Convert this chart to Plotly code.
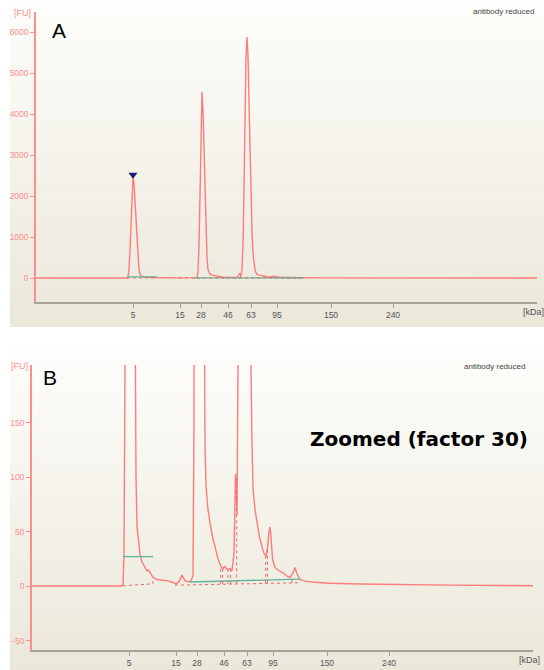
import plotly.graph_objects as go

W, H = 544, 670

# ---------------- data (migration time in s, fluorescence in FU) ----------------
time_s = [15.00, 18.00, 20.40, 20.46, 20.52, 20.58, 20.64, 20.70, 20.76, 20.82, 20.88, 20.94,
          21.00, 21.06, 21.12, 21.18, 21.24, 21.30, 21.39, 21.48, 21.60, 21.78, 21.90, 21.99,
          22.08, 22.26, 22.50, 22.80, 23.10, 23.40, 23.64, 23.82, 24.00, 24.18, 24.36, 24.54,
          24.66, 24.72, 24.78, 24.84, 24.90, 24.96, 25.02, 25.08, 25.14, 25.20, 25.26, 25.32,
          25.38, 25.44, 25.56, 25.68, 25.83, 25.98, 26.16, 26.34, 26.46, 26.58, 26.70, 26.88,
          27.00, 27.12, 27.18, 27.21, 27.24, 27.30, 27.36, 27.42, 27.48, 27.54, 27.60, 27.66,
          27.72, 27.78, 27.84, 27.90, 27.96, 28.02, 28.08, 28.14, 28.20, 28.26, 28.38, 28.50,
          28.65, 28.80, 28.92, 29.04, 29.13, 29.22, 29.28, 29.34, 29.43, 29.58, 29.82, 30.06,
          30.30, 30.48, 30.66, 30.78, 30.90, 31.08, 31.38, 31.98, 32.88, 34.68, 37.08, 40.08,
          43.08, 45.06]
signal_fu = [0, 0, 0, 2, 30, 200, 700, 1400, 2100, 2450, 2300, 1850,
             1350, 900, 450, 210, 100, 55, 38, 29, 22, 17, 14, 14.5,
             12, 8, 6, 5.5, 5, 3.5, 2, 4, 10, 5, 4, 4.5,
             10, 150, 800, 2000, 3600, 4540, 4100, 3100, 2000, 1100, 500, 210,
             130, 92, 70, 58, 45, 36, 25, 18, 16, 18, 15, 16,
             14, 30, 90, 103, 95, 65, 200, 800, 2200, 4000, 5400, 5880,
             5400, 4300, 3000, 1900, 1100, 600, 320, 200, 130, 90, 70, 58,
             45, 36, 30, 27, 35, 50, 54, 45, 25, 17, 14, 12,
             9, 8, 12, 17, 11, 6, 4.5, 3.5, 2.5, 1.8, 1.2, 0.8,
             0.5, 0.3]

# size-standard positions (migration time) and their kDa labels
ladder_time = [20.82, 23.64, 24.90, 26.52, 27.90, 29.46, 32.70, 36.42]
ladder_kda = ["5", "15", "28", "46", "63", "95", "150", "240"]

# peak-integration marks
level_line_time = [20.46, 22.26]      # teal peak-level line of the first peak
level_line_fu = [27, 27]
base1_time = [20.46, 22.26]           # dotted baselines
base1_fu = [0.3, 2]
base2_time = [23.58, 31.08]
base2_fu = [0.8, 3]
teal_base_time = [24.48, 31.08]
teal_base_fu = [3.7, 6.4]
split_time = [22.26, 26.32, 26.44, 26.76, 26.92, 27.28, 29.02, 29.13, 30.60]
split_top_fu = [8, 16, 16, 15, 15, 100, 27, 35, 8]
split_bottom_fu = [2, 2, 2, 2, 2, 2.5, 3, 3, 3]

peak_marker_time = [20.82]
peak_marker_fu_A = [2520]

yticks_A = [0, 1000, 2000, 3000, 4000, 5000, 6000]
yticks_B = [-50, 0, 50, 100, 150]

# ---------------- styling ----------------
TRACE = "#ff7b7b"
AXIS_PINK = "#ff8d8d"
AXIS_GRAY = "#a5a398"
TEAL = "#5fb59b"
DOT = "#e86a6a"
SMALL_FONT = "Liberation Sans, Arial, sans-serif"

def px_x(p):
    return p / W

def px_y(p):
    return 1 - p / H

panels = {
    "A": dict(x0=36, x1=537, y0=12, y1=302, xa="x", ya="y", yr=[-585, 6490], yt=yticks_A),
    "B": dict(x0=32, x1=533, y0=365, y1=650, xa="x2", ya="y2", yr=[-58.7, 202.8], yt=yticks_B),
}

fig = go.Figure()

for name, p in panels.items():
    xa, ya = p["xa"], p["ya"]
    fig.add_trace(go.Scatter(x=time_s, y=signal_fu, mode="lines", xaxis=xa, yaxis=ya,
                             line=dict(color=TRACE, width=1.4), hoverinfo="skip",
                             showlegend=False))
    fig.add_trace(go.Scatter(x=level_line_time, y=level_line_fu, mode="lines", xaxis=xa, yaxis=ya,
                             line=dict(color=TEAL, width=1.3), showlegend=False, hoverinfo="skip"))
    fig.add_trace(go.Scatter(x=teal_base_time, y=teal_base_fu, mode="lines", xaxis=xa, yaxis=ya,
                             line=dict(color=TEAL, width=1.3), showlegend=False, hoverinfo="skip"))
    for bt, bf in ((base1_time, base1_fu), (base2_time, base2_fu)):
        fig.add_trace(go.Scatter(x=bt, y=bf, mode="lines", xaxis=xa, yaxis=ya,
                                 line=dict(color=DOT, width=1, dash="dot"),
                                 showlegend=False, hoverinfo="skip"))
    sx, sy = [], []
    for t, top, bot in zip(split_time, split_top_fu, split_bottom_fu):
        sx += [t, t, None]
        sy += [bot, top, None]
    fig.add_trace(go.Scatter(x=sx, y=sy, mode="lines", xaxis=xa, yaxis=ya,
                             line=dict(color=DOT, width=1, dash="dot"),
                             showlegend=False, hoverinfo="skip"))

fig.add_trace(go.Scatter(x=peak_marker_time, y=peak_marker_fu_A, mode="markers", xaxis="x", yaxis="y",
                         marker=dict(symbol="triangle-down", size=8, color="#1d1d78"),
                         showlegend=False, hoverinfo="skip"))

# gradient backgrounds for the two panels
shapes = []
top_c = (253, 253, 251)
bot_c = (235, 232, 218)
for (bx0, by0, bx1, by1) in ((10, 0, 544, 327), (10, 350, 544, 670)):
    n = 40
    for i in range(n):
        f = i / (n - 1)
        c = tuple(int(round(top_c[k] + (bot_c[k] - top_c[k]) * f)) for k in range(3))
        ya0 = by0 + (by1 - by0) * i / n
        ya1 = by0 + (by1 - by0) * (i + 1) / n + 0.6
        shapes.append(dict(type="rect", xref="paper", yref="paper", layer="below",
                           x0=px_x(bx0), x1=px_x(bx1), y0=px_y(min(ya1, by1)), y1=px_y(ya0),
                           line=dict(width=0), fillcolor="rgb(%d,%d,%d)" % c))

layout = dict(
    width=W, height=H, margin=dict(l=0, r=0, t=0, b=0),
    paper_bgcolor="white", plot_bgcolor="rgba(0,0,0,0)",
    font=dict(family=SMALL_FONT),
    shapes=shapes, showlegend=False,
)

for name, p in panels.items():
    xkey = "xaxis" if p["xa"] == "x" else "xaxis2"
    ykey = "yaxis" if p["ya"] == "y" else "yaxis2"
    layout[xkey] = dict(domain=[px_x(p["x0"]), px_x(p["x1"])], range=[15, 45.06],
                        anchor=p["ya"], showgrid=False, zeroline=False,
                        showline=True, linecolor=AXIS_GRAY, linewidth=2,
                        ticks="outside", ticklen=4, tickcolor=AXIS_GRAY, tickwidth=1,
                        tickvals=ladder_time, ticktext=ladder_kda,
                        tickfont=dict(size=8.5, color="#555555", family=SMALL_FONT))
    layout[ykey] = dict(domain=[px_y(p["y1"]), px_y(p["y0"])], range=p["yr"],
                        anchor=p["xa"], showgrid=False, zeroline=False,
                        showline=True, linecolor=AXIS_PINK, linewidth=1.5,
                        ticks="outside", ticklen=4, tickcolor=AXIS_PINK, tickwidth=1,
                        tickvals=p["yt"], tickfont=dict(size=8.5, color=AXIS_PINK, family=SMALL_FONT))

fig.update_layout(**layout)

ann = []
def add_text(x, y, text, size, color, bold=False, family=SMALL_FONT):
    ann.append(dict(x=px_x(x), y=px_y(y), xref="paper", yref="paper",
                    text=("<b>%s</b>" % text) if bold else text,
                    showarrow=False, xanchor="center", yanchor="middle",
                    font=dict(size=size, color=color, family=family)))

add_text(59, 31, "A", 21, "black")
add_text(50, 377, "B", 21, "black")
add_text(22, 13, "[FU]", 9, AXIS_PINK)
add_text(19, 366, "[FU]", 9, AXIS_PINK)
add_text(533, 312, "[kDa]", 9, "#555555")
add_text(529, 660, "[kDa]", 9, "#555555")
add_text(503, 12, "antibody reduced", 8, "#444444")
add_text(494, 366, "antibody reduced", 8, "#444444")
add_text(419, 439, "Zoomed (factor 30)", 20, "black", bold=True, family="DejaVu Sans, sans-serif")
fig.update_layout(annotations=ann)

fig.write_html("out.html", config={"displayModeBar": False},
               post_script="document.body.style.margin='0';")
